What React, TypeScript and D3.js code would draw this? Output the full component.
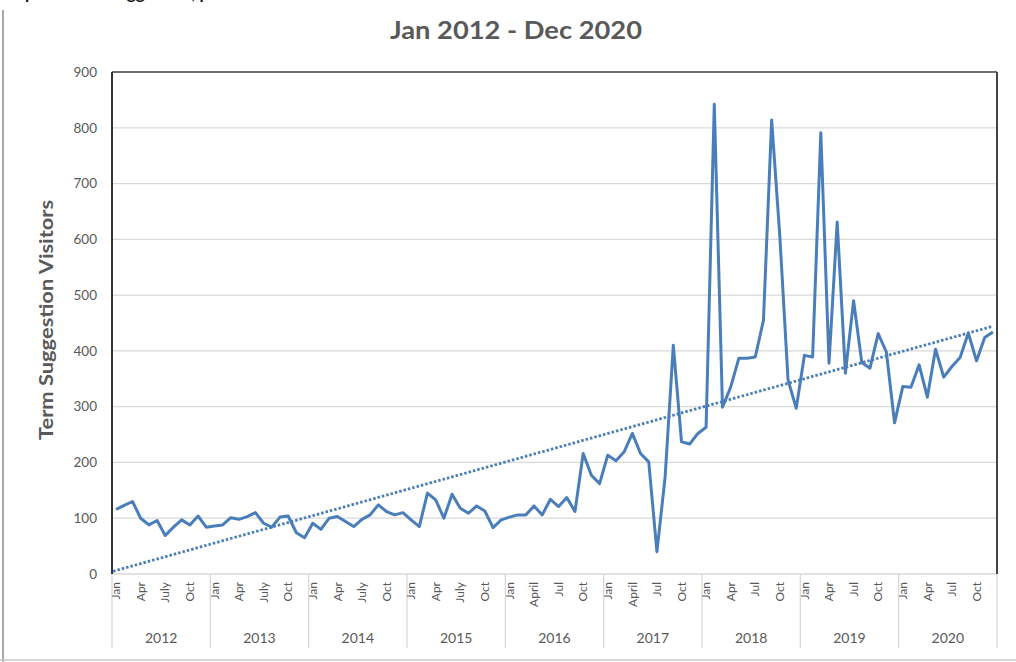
import React from 'react'
import * as d3 from 'd3'

// categories
const YEARS = ['2012', '2013', '2014', '2015', '2016', '2017', '2018', '2019', '2020']
// quarter labels shown under each year (Jan, Apr, Jul, Oct positions)
const QUARTER_LABELS = [
  ['Jan', 'Apr', 'July', 'Oct'],
  ['Jan', 'Apr', 'July', 'Oct'],
  ['Jan', 'Apr', 'July', 'Oct'],
  ['Jan', 'Apr', 'July', 'Oct'],
  ['Jan', 'April', 'Jul', 'Oct'],
  ['Jan', 'April', 'Jul', 'Oct'],
  ['Jan', 'Apr', 'Jul', 'Oct'],
  ['Jan', 'Apr', 'Jul', 'Oct'],
  ['Jan', 'Apr', 'Jul', 'Oct']
]

// monthly visitors, Jan..Dec of each year
const V2012 = [116, 123, 130, 100, 88, 96, 69, 84, 97, 88, 104, 84]
const V2013 = [86, 88, 101, 98, 103, 110, 91, 84, 102, 104, 74, 65]
const V2014 = [91, 80, 100, 103, 94, 85, 98, 106, 124, 112, 106, 110]
const V2015 = [97, 85, 145, 133, 100, 143, 118, 109, 122, 113, 83, 97]
const V2016 = [102, 106, 106, 122, 106, 134, 121, 137, 112, 216, 177, 162]
const V2017 = [213, 203, 219, 252, 216, 201, 40, 174, 410, 237, 233, 252]
const V2018 = [263, 842, 299, 335, 387, 387, 389, 455, 814, 605, 348, 297]
const V2019 = [392, 389, 791, 378, 631, 360, 490, 379, 369, 431, 398, 271]
const V2020 = [336, 335, 375, 317, 403, 353, 372, 388, 432, 382, 424, 434]

const VISITORS = [...V2012, ...V2013, ...V2014, ...V2015, ...V2016, ...V2017, ...V2018, ...V2019, ...V2020]
const Y_TICKS = [0, 100, 200, 300, 400, 500, 600, 700, 800, 900]

const FONT = 'Lato, "Open Sans", sans-serif'
const TEXT_GREY = '#595959'
const GRID = '#d9d9d9'
const LINE_BLUE = '#4a7ebb'

export default function App() {
  const width = 1016
  const height = 662
  const plot = { left: 112, right: 997, top: 72, bottom: 574 }

  const idx = VISITORS.map((_, i) => i)
  const x = d3.scaleBand<number>().domain(idx).range([plot.left, plot.right]).padding(0)
  const cx = (i: number) => (x(i) as number) + x.bandwidth() / 2
  const y = d3.scaleLinear().domain([0, 900]).range([plot.bottom, plot.top])

  const line = d3.line<number>()
    .x((_, i) => cx(i))
    .y(d => y(d))

  // linear trendline (least squares), like Excel's
  const mi = d3.mean(idx) as number
  const mv = d3.mean(VISITORS) as number
  const slope = d3.sum(idx, i => (i - mi) * (VISITORS[i] - mv)) / d3.sum(idx, i => (i - mi) ** 2)
  const intercept = mv - slope * mi
  const first = 0
  const last = VISITORS.length - 1

  const yearW = x.bandwidth() * 12

  return (
    <div style={{ position: 'fixed', left: 0, top: 0 }}>
      <svg width={width} height={height} style={{ display: 'block', background: '#fff' }}>
        {/* caption above the chart, cut off by the picture's top edge */}
        <text x={104} y={-1} textAnchor="end" fontFamily={FONT} fontWeight="bold" fontSize={17} fill="#111">Graph 3: Term</text>
        <text x={108} y={-1} fontFamily={FONT} fontWeight="bold" fontSize={17} fill="#111">Suggestion, per month</text>

        {/* image borders */}
        <line x1={3} x2={3} y1={10} y2={662} stroke="#8c8c8c" strokeWidth={1.5} />
        <line x1={0} x2={width} y1={660} y2={660} stroke="#c8c8c8" strokeWidth={1.5} />

        {/* title */}
        <text x={516} y={39} textAnchor="middle" fontFamily={FONT} fontWeight="bold" fontSize={25}
          textLength={252} lengthAdjust="spacingAndGlyphs" fill={TEXT_GREY}>
          Jan 2012 - Dec 2020
        </text>

        {/* gridlines */}
        {Y_TICKS.filter(t => t > 0 && t < 900).map(t => (
          <line key={t} x1={plot.left} x2={plot.right} y1={y(t)} y2={y(t)} stroke={GRID} strokeWidth={1.2} />
        ))}

        {/* y tick labels */}
        {Y_TICKS.map(t => (
          <text key={t} x={97} y={y(t)} dy="0.35em" textAnchor="end" fontFamily={FONT} fontSize={13.5} fill={TEXT_GREY}>{t}</text>
        ))}

        {/* y title */}
        <text transform={`translate(53,${(plot.top + plot.bottom) / 2 - 3}) rotate(-90)`} textAnchor="middle"
          fontFamily={FONT} fontWeight="bold" fontSize={18} textLength={240} lengthAdjust="spacingAndGlyphs" fill={TEXT_GREY}>
          Term Suggestion Visitors
        </text>

        {/* x axis line and year separators */}
        <line x1={plot.left} x2={plot.right} y1={plot.bottom} y2={plot.bottom} stroke={GRID} strokeWidth={1.5} />
        {d3.range(YEARS.length + 1).map(k => (
          <line key={k} x1={plot.left + k * yearW} x2={plot.left + k * yearW} y1={plot.bottom} y2={648} stroke={GRID} strokeWidth={1.3} />
        ))}

        {/* month labels */}
        {YEARS.map((yr, k) => QUARTER_LABELS[k].map((lab, q) => {
          const i = k * 12 + q * 3
          return (
            <text key={yr + lab} transform={`translate(${cx(i)},582) rotate(-90)`} textAnchor="end" dy="0.35em"
              fontFamily={FONT} fontSize={12} fill={TEXT_GREY}>{lab}</text>
          )
        }))}

        {/* year labels */}
        {YEARS.map((yr, k) => (
          <text key={yr} x={plot.left + (k + 0.5) * yearW} y={643} textAnchor="middle" fontFamily={FONT} fontSize={14} fill={TEXT_GREY}>{yr}</text>
        ))}

        {/* plot frame */}
        <line x1={plot.left} x2={plot.right} y1={plot.top} y2={plot.top} stroke="#404040" strokeWidth={1.5} />
        <line x1={plot.left} x2={plot.left} y1={plot.top} y2={plot.bottom} stroke="#333" strokeWidth={2} />
        <line x1={plot.right} x2={plot.right} y1={plot.top} y2={plot.bottom} stroke="#444" strokeWidth={2} />

        {/* trendline */}
        <line x1={cx(first) - 3} y1={y(intercept + slope * (first - 0.4))} x2={cx(last)} y2={y(intercept + slope * last)}
          stroke={LINE_BLUE} strokeWidth={2.8} strokeDasharray="2.5 2" />

        {/* data line */}
        <path d={line(VISITORS) as string} fill="none" stroke={LINE_BLUE} strokeWidth={3} strokeLinejoin="round" />
      </svg>
    </div>
  )
}
